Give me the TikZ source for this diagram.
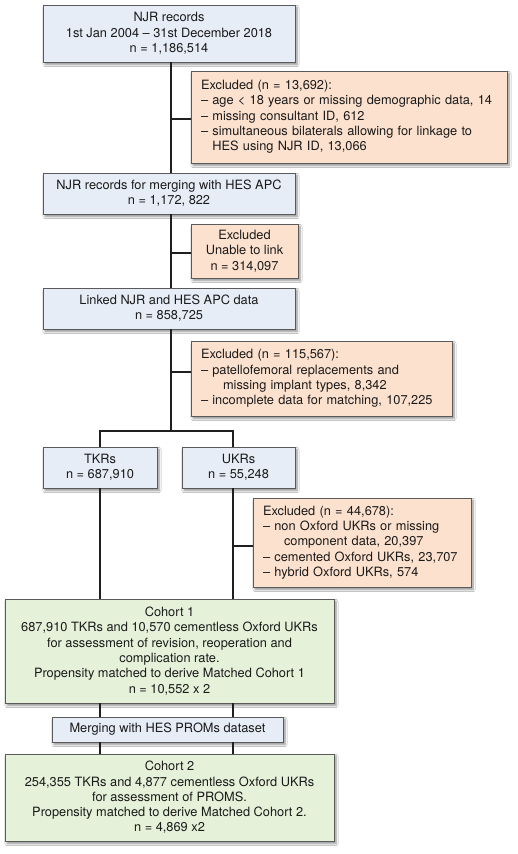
\documentclass[tikz,border=0pt]{standalone}
\usepackage{fontspec}
\setmainfont{TeX Gyre Heros}
\usetikzlibrary{shadows.blur}
\definecolor{bluefill}{HTML}{E6EDF7}
\definecolor{peachfill}{HTML}{FCE1CE}
\definecolor{greenfill}{HTML}{E5F1D9}
\definecolor{boxline}{HTML}{5A5A5A}
\definecolor{txt}{HTML}{1A1A1A}
\tikzset{
  box/.style={draw=boxline, line width=0.8pt,
    blur shadow={shadow xshift=2pt, shadow yshift=-2.5pt, shadow blur steps=6, shadow opacity=45},
    text=txt, font=\fontsize{12.8}{15.3}\selectfont, inner sep=0pt, align=center},
  bluebox/.style={box, fill=bluefill},
  greenbox/.style={box, fill=greenfill},
  exclbox/.style={box, fill=peachfill, align=left, inner xsep=10pt},
  conn/.style={line width=2pt, draw=black!88},
}
\begin{document}
\begin{tikzpicture}[x=1pt,y=-1pt]
\useasboundingbox (0,0) rectangle (518,854);
\fill[white] (0,0) rectangle (518,854);
% spine coordinates
\coordinate (sp) at (171,0);
\coordinate (lt) at (100,0);
\coordinate (rt) at (233,0);
% boxes
\node[bluebox, minimum width=252, minimum height=57] (b1) at (169,33.5)
  {NJR records\\1st Jan 2004 -- 31st December 2018\\n = 1,186,514};
\node[exclbox, text width=296, minimum height=92] (e1) at (349,117)
  {Excluded (n = 13,692):\\
   -- age < 18 years or missing demographic data, 14\\
   -- missing consultant ID, 612\\
   -- simultaneous bilaterals allowing for linkage to\\
   \phantom{-- }HES using NJR ID, 13,066};
\node[bluebox, minimum width=252, minimum height=41] (b2) at (169,193.5)
  {NJR records for merging with HES APC\\n = 1,172, 822};
\node[box, fill=peachfill, minimum width=107, minimum height=54] (e2) at (244.5,251)
  {Excluded\\Unable to link\\n = 314,097};
\node[bluebox, minimum width=252, minimum height=41] (b3) at (169,308.5)
  {Linked NJR and HES APC data\\n = 858,725};
\node[exclbox, text width=241, minimum height=75] (e3) at (321.5,378.5)
  {Excluded (n = 115,567):\\
   -- patellofemoral replacements and\\
   \hspace*{22pt}missing implant types, 8,342\\
   -- incomplete data for matching, 107,225};
\node[bluebox, minimum width=114, minimum height=41] (tkr) at (100,467.5)
  {TKRs\\n = 687,910};
\node[bluebox, minimum width=113, minimum height=41] (ukr) at (238.5,467.5)
  {UKRs\\n = 55,248};
\node[exclbox, text width=198, minimum height=89] (e4) at (362,542.5)
  {Excluded (n = 44,678):\\
   -- non Oxford UKRs or missing\\
   \hspace*{21pt}component data, 20,397\\
   -- cemented Oxford UKRs, 23,707\\
   -- hybrid Oxford UKRs, 574};
\node[greenbox, minimum width=329, minimum height=104] (c1) at (169.5,651)
  {Cohort 1\\687,910 TKRs and 10,570 cementless Oxford UKRs\\for assessment of revision, reoperation and\\complication rate.\\Propensity matched to derive Matched Cohort 1\\n = 10,552 x 2};
\node[bluebox, minimum width=231, minimum height=25] (m) at (167.5,729.5)
  {Merging with HES PROMs dataset};
\node[greenbox, minimum width=329, minimum height=87] (c2) at (169.5,797.5)
  {Cohort 2\\254,355 TKRs and 4,877 cementless Oxford UKRs\\for assessment of PROMS.\\Propensity matched to derive Matched Cohort 2.\\n = 4,869 x2};
% junctions
\coordinate (j1) at (171,118.7);
\coordinate (j2) at (171,252.7);
\coordinate (j3) at (171,371.7);
\coordinate (j4) at (171,431);
\coordinate (j5) at (233,545.7);
% connectors
\draw[conn] (b1.south -| sp) -- (b2.north -| sp);
\draw[conn] (j1) -- (j1 -| e1.west);
\draw[conn] (b2.south -| sp) -- (b3.north -| sp);
\draw[conn] (j2) -- (j2 -| e2.west);
\draw[conn] (b3.south -| sp) -- (j4);
\draw[conn] (j3) -- (j3 -| e3.west);
\draw[conn] (tkr.north -| lt) -- (j4 -| lt) -- (j4 -| rt) -- (ukr.north -| rt);
\draw[conn] (tkr.south -| lt) -- (c1.north -| lt);
\draw[conn] (ukr.south -| rt) -- (c1.north -| rt);
\draw[conn] (j5) -- (j5 -| e4.west);
\draw[conn] (c1.south -| lt) -- (m.north -| lt);
\draw[conn] (c1.south -| rt) -- (m.north -| rt);
\draw[conn] (m.south -| lt) -- (c2.north -| lt);
\draw[conn] (m.south -| rt) -- (c2.north -| rt);
\end{tikzpicture}
\end{document}
